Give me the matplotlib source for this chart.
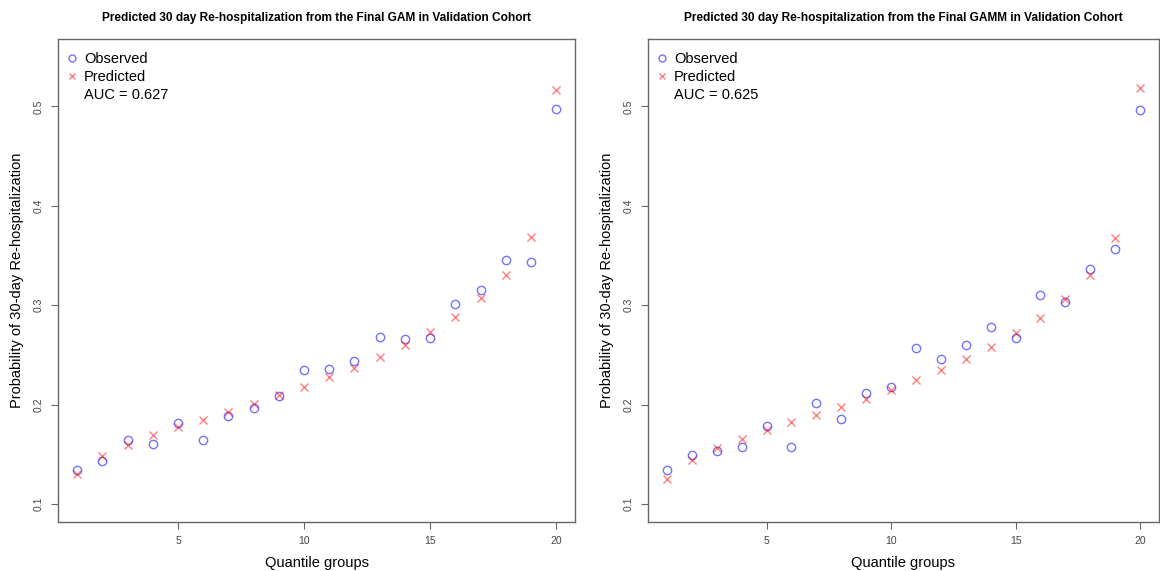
import matplotlib.pyplot as plt
from matplotlib.lines import Line2D

plt.rcParams['font.family'] = ['Liberation Sans', 'DejaVu Sans']

groups = list(range(1, 21))

gam_observed = [0.134, 0.143, 0.164, 0.160, 0.181, 0.164, 0.189, 0.197, 0.209, 0.235,
                0.236, 0.244, 0.268, 0.266, 0.267, 0.301, 0.315, 0.345, 0.343, 0.497]
gam_predicted = [0.130, 0.148, 0.159, 0.169, 0.177, 0.185, 0.193, 0.201, 0.210, 0.218,
                 0.228, 0.237, 0.248, 0.260, 0.273, 0.288, 0.307, 0.330, 0.369, 0.517]

gamm_observed = [0.134, 0.149, 0.153, 0.157, 0.178, 0.157, 0.202, 0.186, 0.212, 0.218,
                 0.257, 0.246, 0.260, 0.278, 0.267, 0.310, 0.303, 0.336, 0.357, 0.496]
gamm_predicted = [0.125, 0.144, 0.156, 0.165, 0.174, 0.182, 0.190, 0.198, 0.206, 0.215,
                  0.225, 0.235, 0.246, 0.258, 0.272, 0.287, 0.306, 0.330, 0.368, 0.519]

titles = ["Predicted 30 day Re-hospitalization from the Final GAM in Validation Cohort",
          "Predicted 30 day Re-hospitalization from the Final GAMM in Validation Cohort"]
auc_labels = ["AUC = 0.627", "AUC = 0.625"]

x_ticks = [5, 10, 15, 20]
y_ticks = [0.1, 0.2, 0.3, 0.4, 0.5]

BLUE = (0.0, 0.0, 1.0, 0.55)
RED = (1.0, 0.0, 0.0, 0.5)
AXIS_GREY = '#666666'


def draw_panel(ax, observed, predicted, title, auc_text):
    ax.plot(groups, observed, linestyle='none', marker='o', markersize=6,
            markerfacecolor='none', markeredgecolor=BLUE, markeredgewidth=1.0)
    ax.plot(groups, predicted, linestyle='none', marker='x', markersize=6,
            markeredgecolor=RED, markeredgewidth=1.0)

    # R style: 4% padding around the limits
    ax.set_xlim(1 - 19 * 0.04, 20 + 19 * 0.04)
    ax.set_ylim(0.1 - 0.45 * 0.04, 0.55 + 0.45 * 0.04)
    ax.set_xticks(x_ticks)
    ax.set_yticks(y_ticks)
    ax.set_xticklabels([str(t) for t in x_ticks], fontsize=7.5, color='#444444')
    ax.set_yticklabels([str(t) for t in y_ticks], fontsize=7.5, color='#444444',
                       rotation=90, va='center')
    ax.tick_params(direction='out', length=5, width=0.8, color=AXIS_GREY, pad=5)
    for spine in ax.spines.values():
        spine.set_color(AXIS_GREY)
        spine.set_linewidth(1.0)

    ax.set_title(title, fontsize=8.6, fontweight='bold', pad=13)
    ax.set_xlabel("Quantile groups", fontsize=10.5, labelpad=7)
    ax.set_ylabel("Probability of 30-day Re-hospitalization", fontsize=10.5, labelpad=7)

    handles = [
        Line2D([], [], linestyle='none', marker='o', markersize=5,
               markerfacecolor='none', markeredgecolor=BLUE),
        Line2D([], [], linestyle='none', marker='x', markersize=5,
               markeredgecolor=RED),
        Line2D([], [], linestyle='none'),
    ]
    ax.legend(handles, ["Observed", "Predicted", auc_text], loc='upper left',
              bbox_to_anchor=(-0.009, 1.0), frameon=False, fontsize=10.5,
              handlelength=0.8, handletextpad=0.4, labelspacing=0.28,
              borderaxespad=0.5, borderpad=0.4)


fig = plt.figure(figsize=(11.6, 5.71), dpi=100)
ax_left = fig.add_axes([0.050, 0.086, 0.446, 0.846])
ax_right = fig.add_axes([0.5586, 0.086, 0.4405, 0.846])

draw_panel(ax_left, gam_observed, gam_predicted, titles[0], auc_labels[0])
draw_panel(ax_right, gamm_observed, gamm_predicted, titles[1], auc_labels[1])

fig.savefig("out.png", dpi=100)
